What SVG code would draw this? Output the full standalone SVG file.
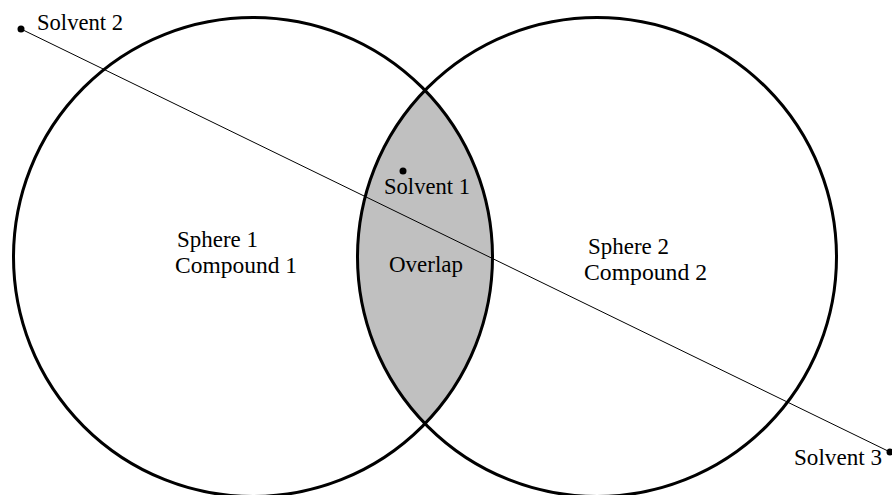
<svg xmlns="http://www.w3.org/2000/svg" width="892" height="495" viewBox="0 0 892 495">
<style>
.circ{fill:none;stroke:#000;stroke-width:3}
.lbl{font-family:"Liberation Serif","Times New Roman",serif;font-size:23px;fill:#000}
.dot{fill:#000}
</style>
<rect width="892" height="495" fill="#fff"/>
<g id="overlap">
<path d="M425,90.3 A239.5,239.5 0 0 1 425,423.7 A239.5,239.5 0 0 1 425,90.3 Z" fill="#c0c0c0"/>
<text class="lbl" x="389" y="272" textLength="74" lengthAdjust="spacingAndGlyphs">Overlap</text>
</g>
<g id="sphere1">
<circle class="circ" cx="253" cy="257" r="239.5"/>
<text class="lbl" x="177" y="247" textLength="81" lengthAdjust="spacingAndGlyphs">Sphere 1</text>
<text class="lbl" x="175" y="273" textLength="122" lengthAdjust="spacingAndGlyphs">Compound 1</text>
</g>
<g id="sphere2">
<circle class="circ" cx="597" cy="257" r="239.5"/>
<text class="lbl" x="588" y="254" textLength="81" lengthAdjust="spacingAndGlyphs">Sphere 2</text>
<text class="lbl" x="584" y="280" textLength="123" lengthAdjust="spacingAndGlyphs">Compound 2</text>
</g>
<g id="connectors">
<line x1="21" y1="29" x2="890" y2="452" stroke="#000" stroke-width="1"/>
</g>
<g id="solvent2">
<circle class="dot" cx="21" cy="29" r="3.5"/>
<text class="lbl" x="37" y="30" textLength="86" lengthAdjust="spacingAndGlyphs">Solvent 2</text>
</g>
<g id="solvent1">
<circle class="dot" cx="403" cy="171" r="3.5"/>
<text class="lbl" x="384" y="194" textLength="86" lengthAdjust="spacingAndGlyphs">Solvent 1</text>
</g>
<g id="solvent3">
<circle class="dot" cx="890" cy="452" r="3.5"/>
<text class="lbl" x="794" y="465" textLength="88" lengthAdjust="spacingAndGlyphs">Solvent 3</text>
</g>
</svg>
